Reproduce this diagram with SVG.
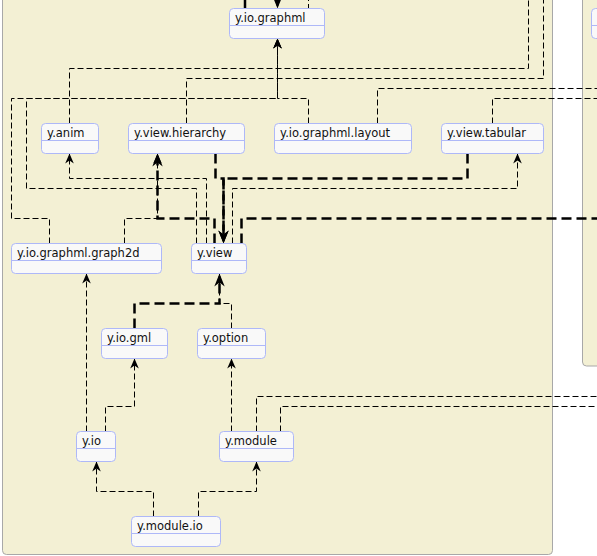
<svg xmlns="http://www.w3.org/2000/svg" width="597" height="556" viewBox="0 0 597 556">
<style>
.grp{fill:#F3F0D4;stroke:#A8A8A8;stroke-width:1}
.node rect{fill:#F9F9F9;stroke:#AEB8F8;stroke-width:1}
.node line{stroke:#AEB8F8;stroke-width:1}
.node text{font-family:"DejaVu Sans",sans-serif;font-size:11.5px;fill:#111}
.d{fill:none;stroke:#000;stroke-width:1;stroke-dasharray:6,3}
.t{fill:none;stroke:#000;stroke-width:2.5;stroke-dasharray:10,5}
</style>
<defs>
<marker id="a" viewBox="-11 -5 11 10" refX="0" refY="0" markerWidth="11" markerHeight="10" markerUnits="userSpaceOnUse" orient="auto" overflow="visible"><path d="M0,0 L-10,-4.3 L-7,0 L-10,4.3 Z" fill="#000"/></marker>
<marker id="b" viewBox="-14 -6 14 12" refX="-3" refY="0" markerWidth="14" markerHeight="12" markerUnits="userSpaceOnUse" orient="auto" overflow="visible"><path d="M0,0 L-13,-5.2 L-9,0 L-13,5.2 Z" fill="#000"/></marker>
</defs>
<rect width="597" height="556" fill="#fff"/>
<g id="groups">
<rect class="grp" x="2.5" y="-20" width="550" height="574.5" rx="4"/>
<rect class="grp" x="582.5" y="-20" width="100" height="386" rx="4"/>
</g>
<g id="connectors">
<path class="d" d="M308.5,123.5 V98.5 H277.5 V38.5" marker-end="url(#a)"/>
<path class="d" d="M49.5,243.5 V218.5 H11.5 V98.5 H277.5 V38.5" marker-end="url(#a)"/>
<path class="d" d="M196.5,243.5 V188.5 H26.5 V98.5 H277.5 V38.5" marker-end="url(#a)"/>
<path class="d" d="M69.5,123.5 V68.5 H528.5 V-5"/>
<path class="d" d="M186.5,123.5 V78.5 H543.5 V-5"/>
<path class="d" d="M377.5,123.5 V88.5 H600"/>
<path class="d" d="M492.5,123.5 V98.5 H600"/>
<path class="d" d="M206.5,243.5 V178.5 H69.5 V153.5" marker-end="url(#a)"/>
<path class="d" d="M124.5,243.5 V218.5 H157.5 V153.5" marker-end="url(#a)"/>
<path class="t" d="M214.5,243.5 V218.5 H157.5 V156.5" marker-end="url(#b)"/>
<path class="t" d="M215.5,153.5 V178.5 H223.5 V240.5" marker-end="url(#b)"/>
<path class="t" d="M467.5,153.5 V178.5 H223.5 V240.5" marker-end="url(#b)"/>
<path class="d" d="M232.5,243.5 V188.5 H517.5 V153.5" marker-end="url(#a)"/>
<path class="t" d="M241.5,243.5 V218.5 H600"/>
<path class="t" d="M134.5,328.5 V303.5 H219.5 V276.5" marker-end="url(#b)"/>
<path class="d" d="M231.5,328.5 V303.5 H219.5 V273.5"/>
<path class="d" d="M86.5,431.5 V273.5" marker-end="url(#a)"/>
<path class="d" d="M105.5,431.5 V406.5 H134.5 V358.5" marker-end="url(#a)"/>
<path class="d" d="M231.5,431.5 V358.5" marker-end="url(#a)"/>
<path class="d" d="M256.5,431.5 V396.5 H600"/>
<path class="d" d="M280.5,431.5 V406.5 H600"/>
<path class="d" d="M153.5,516.5 V491.5 H96.5 V461.5" marker-end="url(#a)"/>
<path class="d" d="M198.5,516.5 V491.5 H256.5 V461.5" marker-end="url(#a)"/>
<path d="M245,-5 V8.5" stroke="#000" stroke-width="2.5" fill="none"/>
<path class="t" d="M277.5,-12 V5.5" marker-end="url(#b)"/>
<path class="d" d="M308.5,-5 V8.5"/>
</g>
<g id="n_graphml" class="node"><rect x="229.5" y="8.5" width="95" height="30" rx="4"/><line x1="229.5" y1="25.5" x2="324.5" y2="25.5"/><text x="235" y="21.5">y.io.graphml</text></g>
<g id="n_anim" class="node"><rect x="41.5" y="123.5" width="57" height="30" rx="4"/><line x1="41.5" y1="140.5" x2="98.5" y2="140.5"/><text x="47" y="136.5">y.anim</text></g>
<g id="n_hierarchy" class="node"><rect x="128.5" y="123.5" width="116" height="30" rx="4"/><line x1="128.5" y1="140.5" x2="244.5" y2="140.5"/><text x="134" y="136.5">y.view.hierarchy</text></g>
<g id="n_layout" class="node"><rect x="274.5" y="123.5" width="137" height="30" rx="4"/><line x1="274.5" y1="140.5" x2="411.5" y2="140.5"/><text x="280" y="136.5">y.io.graphml.layout</text></g>
<g id="n_tabular" class="node"><rect x="441.5" y="123.5" width="102" height="30" rx="4"/><line x1="441.5" y1="140.5" x2="543.5" y2="140.5"/><text x="447" y="136.5">y.view.tabular</text></g>
<g id="n_graph2d" class="node"><rect x="11.5" y="243.5" width="150" height="30" rx="4"/><line x1="11.5" y1="260.5" x2="161.5" y2="260.5"/><text x="17" y="256.5">y.io.graphml.graph2d</text></g>
<g id="n_view" class="node"><rect x="191.5" y="243.5" width="55" height="30" rx="4"/><line x1="191.5" y1="260.5" x2="246.5" y2="260.5"/><text x="197" y="256.5">y.view</text></g>
<g id="n_gml" class="node"><rect x="101.5" y="328.5" width="66" height="30" rx="4"/><line x1="101.5" y1="345.5" x2="167.5" y2="345.5"/><text x="107" y="341.5">y.io.gml</text></g>
<g id="n_option" class="node"><rect x="197.5" y="328.5" width="68" height="30" rx="4"/><line x1="197.5" y1="345.5" x2="265.5" y2="345.5"/><text x="203" y="341.5">y.option</text></g>
<g id="n_io" class="node"><rect x="76.5" y="431.5" width="39" height="30" rx="4"/><line x1="76.5" y1="448.5" x2="115.5" y2="448.5"/><text x="82" y="444.5">y.io</text></g>
<g id="n_module" class="node"><rect x="219.5" y="431.5" width="74" height="30" rx="4"/><line x1="219.5" y1="448.5" x2="293.5" y2="448.5"/><text x="225" y="444.5">y.module</text></g>
<g id="n_moduleio" class="node"><rect x="131.5" y="516.5" width="89" height="30" rx="4"/><line x1="131.5" y1="533.5" x2="220.5" y2="533.5"/><text x="137" y="529.5">y.module.io</text></g>
<g id="n_partial" class="node"><rect x="591.5" y="8.5" width="60" height="30" rx="4"/><line x1="591.5" y1="25.5" x2="651.5" y2="25.5"/></g>
</svg>
